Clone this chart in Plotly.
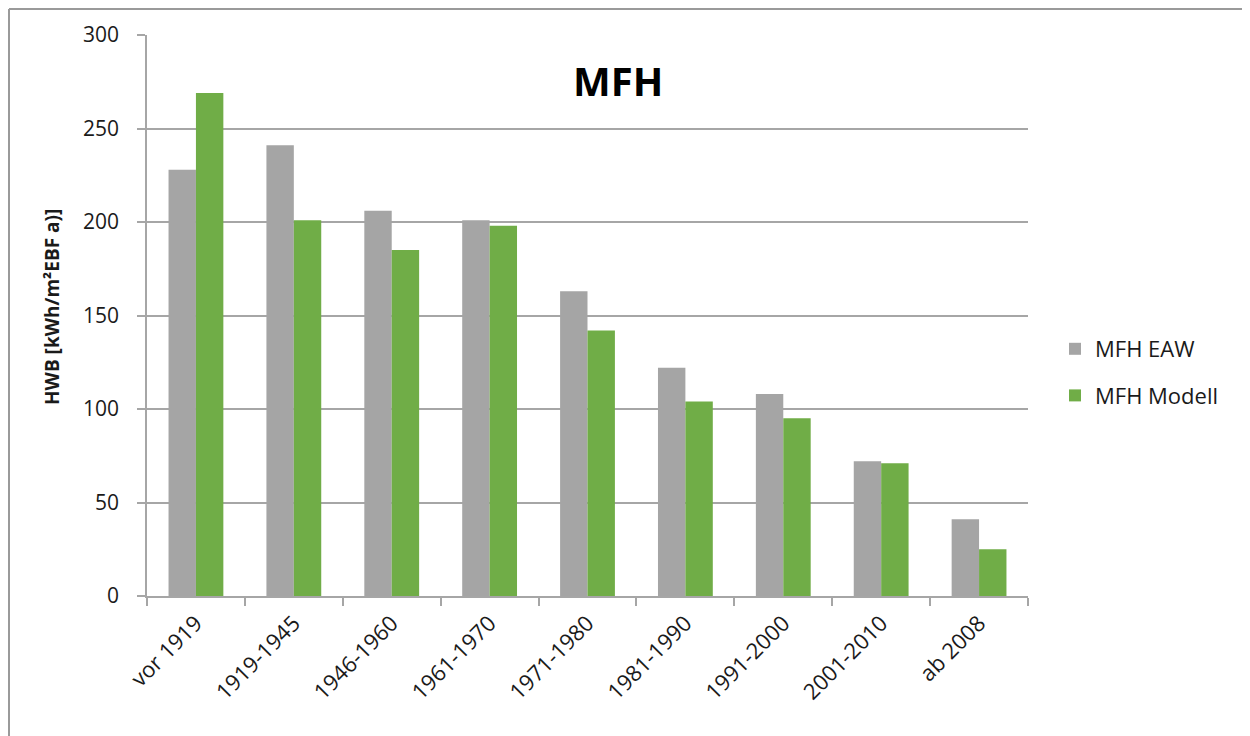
import plotly.graph_objects as go

categories = ["vor 1919", "1919-1945", "1946-1960", "1961-1970", "1971-1980",
              "1981-1990", "1991-2000", "2001-2010", "ab 2008"]
eaw_values = [228, 241, 206, 201, 163, 122, 108, 72, 41]
modell_values = [269, 201, 185, 198, 142, 104, 95, 71, 25]
series_names = ["MFH EAW", "MFH Modell"]
y_ticks = [0, 50, 100, 150, 200, 250, 300]

FONT = "Open Sans, DejaVu Sans, sans-serif"
GRID = "#a6a6a6"
TXT = "#1a1a1a"

fig = go.Figure()
fig.add_trace(go.Bar(x=categories, y=eaw_values, name=series_names[0],
                     marker=dict(color="#a5a5a5", line=dict(width=0)),
                     legendgroup="a"))
fig.add_trace(go.Bar(x=categories, y=modell_values, name=series_names[1],
                     marker=dict(color="#70ad47", line=dict(width=0)),
                     legendgroup="b"))

# the page body has an 8px margin, so the figure sits at (8, 8)
OFF = 8
W, H = 1250 - OFF, 736 - OFF
L, T = 147 - OFF, 35 - OFF
R = W - (1028 - OFF)
B = H - (596 - OFF)
pw, ph = W - L - R, H - T - B

def px_x(p):
    return (p - OFF - L) / pw

def px_y(p):
    return (H - B - (p - OFF)) / ph

fig.update_layout(
    width=W, height=H,
    margin=dict(l=L, r=R, t=T, b=B, pad=0),
    paper_bgcolor="white", plot_bgcolor="white",
    barmode="group", bargap=0.44, bargroupgap=0,
    font=dict(family=FONT, color=TXT),
    showlegend=True,
    legend=dict(x=px_x(1055), y=px_y(328), xanchor="left", yanchor="top",
                font=dict(size=22, family=FONT, color=TXT),
                tracegroupgap=15, itemwidth=30, bgcolor="rgba(0,0,0,0)"),
    xaxis=dict(type="category", showgrid=False, showline=True,
               linecolor=GRID, linewidth=1.5, ticks="outside",
               tickson="boundaries", ticklen=8, tickcolor=GRID, tickwidth=1.5,
               tickangle=-45, ticklabelstandoff=4,
               tickfont=dict(size=22, family=FONT, color=TXT)),
    yaxis=dict(range=[0, 300], tickvals=y_ticks, showgrid=True, gridcolor=GRID,
               gridwidth=1.5, showline=True, linecolor=GRID, linewidth=1.5,
               ticks="outside", ticklen=8, tickcolor=GRID, tickwidth=1.5,
               ticklabelstandoff=14,
               zeroline=False, tickfont=dict(size=21, family=FONT, color=TXT)),
    annotations=[
        dict(text="<b>MFH</b>", x=px_x(618), y=px_y(80), xref="paper",
             yref="paper", showarrow=False, xanchor="center",
             yanchor="middle", font=dict(size=40, family=FONT, color="black")),
        dict(text="<b>HWB [kWh/m²EBF a)]</b>", x=px_x(52), y=px_y(307),
             xref="paper", yref="paper", showarrow=False, textangle=-90,
             xanchor="center", yanchor="middle",
             font=dict(size=19, family=FONT, color=TXT)),
    ],
    shapes=[
        dict(type="line", xref="paper", yref="paper", x0=px_x(9), x1=px_x(9),
             y0=px_y(9), y1=px_y(760), line=dict(color="#9a9a9a", width=2)),
        dict(type="line", xref="paper", yref="paper", x0=px_x(9), x1=px_x(1245),
             y0=px_y(9), y1=px_y(9), line=dict(color="#9a9a9a", width=2)),
        dict(type="line", xref="paper", yref="paper", x0=px_x(1245), x1=px_x(1245),
             y0=px_y(9), y1=px_y(760), line=dict(color="#e6e6e6", width=1)),
    ],
)

fig.write_html("out.html")
